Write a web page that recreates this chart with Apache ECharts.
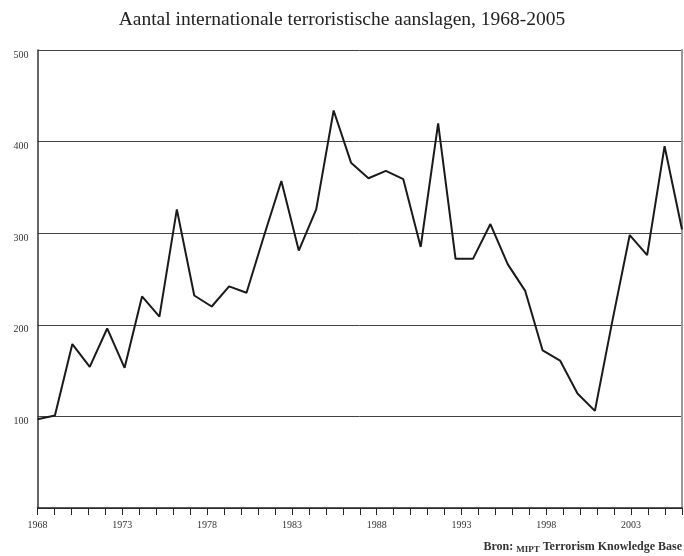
<!DOCTYPE html>
<html>
<head>
<meta charset="utf-8">
<script src="https://cdn.jsdelivr.net/npm/echarts@6/dist/echarts.min.js"></script>
<style>html,body{margin:0;padding:0;background:#fff}#c{width:684px;height:556px}</style>
</head>
<body>
<div id="c"></div>
<script>
const years = [1968,1969,1970,1971,1972,1973,1974,1975,1976,1977,1978,1979,1980,1981,1982,1983,1984,1985,1986,1987,1988,1989,1990,1991,1992,1993,1994,1995,1996,1997,1998,1999,2000,2001,2002,2003,2004,2005];
const attacks = [97,101,179,154,196,153,231,209,326,232,220,242,235,297,357,281,326,434,377,360,368,359,285,420,272,272,310,266,237,172,161,125,106,204,298,276,395,304];
const tickYears = [1968,1969,1970,1971,1972,1973,1974,1975,1976,1977,1978,1979,1980,1981,1982,1983,1984,1985,1986,1987,1988,1989,1990,1991,1992,1993,1994,1995,1996,1997,1998,1999,2000,2001,2002,2003,2004,2005,2006];
const yTicks = [0,100,200,300,400,500];
const titleText = 'Aantal internationale terroristische aanslagen, 1968-2005';

const FONT = '"Liberation Serif", "DejaVu Serif", serif';
const chart = echarts.init(document.getElementById('c'), null, {renderer:'canvas'});
chart.setOption({
  animation: false,
  backgroundColor: '#fff',
  title: [{
    text: titleText, left: 'center', top: 5,
    textStyle: {fontFamily: FONT, fontSize: 19.5, fontWeight: 'normal', color: '#222'}
  }, {
    text: '{a|Bron: }{b|MIPT}{a| Terrorism Knowledge Base}',
    right: 2, top: 540, padding: 0,
    textStyle: {rich: {
      a: {fontFamily: FONT, fontSize: 12, color: '#333', fontWeight: 'bold', lineHeight: 14},
      b: {fontFamily: FONT, fontSize: 9, color: '#333', fontWeight: 'bold', lineHeight: 12, verticalAlign: 'bottom'}
    }}
  }],
  grid: {left: 37.5, right: 2, top: 50, bottom: 48, containLabel: false},
  xAxis: [{
    type: 'category', data: years.map(String), boundaryGap: false, show: false
  }, {
    type: 'category', data: tickYears.map(String), boundaryGap: false, position: 'bottom',
    axisLine: {show: true, lineStyle: {color: '#222', width: 1.5}},
    axisTick: {show: true, interval: 0, length: 7, lineStyle: {color: '#222', width: 1}},
    axisLabel: {interval: 4, margin: 12, fontFamily: FONT, fontSize: 10, color: '#333'},
    splitLine: {show: false}
  }],
  yAxis: [{
    type: 'value', min: yTicks[0], max: yTicks[yTicks.length-1], interval: 100,
    axisLine: {show: true, lineStyle: {color: '#333', width: 1.5}},
    axisTick: {show: false},
    axisLabel: {margin: 9, fontFamily: FONT, fontSize: 10, color: '#333', verticalAlign: 'top',
      formatter: v => v === 0 ? '' : String(v)},
    splitLine: {show: true, lineStyle: {color: '#444', width: 1}}
  }, {
    type: 'value', min: 0, max: 500, position: 'right',
    axisLine: {show: true, lineStyle: {color: '#999', width: 2}},
    axisTick: {show: false}, axisLabel: {show: false}, splitLine: {show: false}
  }],
  series: [{
    type: 'line', xAxisIndex: 0, yAxisIndex: 0, data: attacks,
    showSymbol: false, symbol: 'none',
    lineStyle: {color: '#1a1a1a', width: 2}
  }]
});
</script>
</body>
</html>
